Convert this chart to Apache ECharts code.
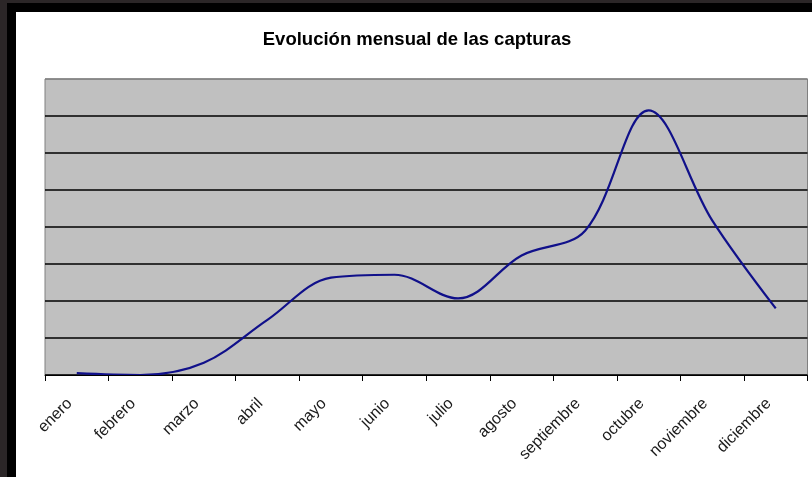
<!DOCTYPE html>
<html>
<head>
<meta charset="utf-8">
<script src="https://cdn.jsdelivr.net/npm/echarts@6/dist/echarts.min.js"></script>
<style>
html,body{margin:0;padding:0;background:#fff;}
#c{width:812px;height:477px;}
</style>
</head>
<body>
<div id="c"></div>
<script>
const titleText = 'Evolución mensual de las capturas';
const months = ['enero','febrero','marzo','abril','mayo','junio','julio','agosto','septiembre','octubre','noviembre','diciembre'];
const capturas = [0.05, 0, 0.33, 1.49, 2.63, 2.71, 2.07, 3.23, 3.9, 7.15, 4.18, 1.8];
const yTicks = [0, 1, 2, 3, 4, 5, 6, 7, 8];

const chart = echarts.init(document.getElementById('c'), null, {renderer: 'canvas'});
const gridColors = yTicks.map((v, i) => i === yTicks.length - 1 ? '#808080' : '#000000');
chart.setOption({
  backgroundColor: '#ffffff',
  animation: false,
  graphic: [
    {type: 'rect', shape: {x: 0, y: 0, width: 812, height: 12}, style: {fill: '#000000'}, z: 10},
    {type: 'rect', shape: {x: 0, y: 0, width: 16, height: 477}, style: {fill: '#000000'}, z: 10},
    {type: 'rect', shape: {x: 0, y: 0, width: 812, height: 3}, style: {fill: '#2b2627'}, z: 11},
    {type: 'rect', shape: {x: 0, y: 0, width: 7, height: 477}, style: {fill: '#2b2627'}, z: 11}
  ],
  title: {
    text: titleText,
    left: 412,
    textAlign: 'center',
    top: 25,
    textStyle: {fontFamily: 'Liberation Sans, Arial, sans-serif', fontSize: 18.5, fontWeight: 'bold', color: '#000'}
  },
  grid: {
    left: 45, right: 4.5, top: 79, bottom: 102,
    show: true, backgroundColor: '#c0c0c0', borderColor: '#808080', borderWidth: 1
  },
  xAxis: {
    type: 'category',
    data: months,
    boundaryGap: true,
    axisLine: {lineStyle: {color: '#000', width: 1}},
    axisTick: {show: true, length: 6, lineStyle: {color: '#000'}},
    axisLabel: {
      rotate: 45, margin: 19, padding: [0, 10, 0, 0],
      fontFamily: 'Liberation Sans, Arial, sans-serif', fontSize: 16, color: '#1a1a1a'
    },
    z: 5
  },
  yAxis: {
    type: 'value',
    min: yTicks[0], max: yTicks[yTicks.length - 1], interval: 1,
    axisLabel: {show: false},
    axisLine: {show: false},
    axisTick: {show: false},
    splitLine: {show: true, lineStyle: {color: gridColors, width: 1.5}}
  },
  series: [{
    type: 'line',
    data: capturas,
    smooth: 0.35,
    showSymbol: false,
    lineStyle: {color: '#10108a', width: 2.2},
    z: 3
  }]
});
</script>
</body>
</html>
